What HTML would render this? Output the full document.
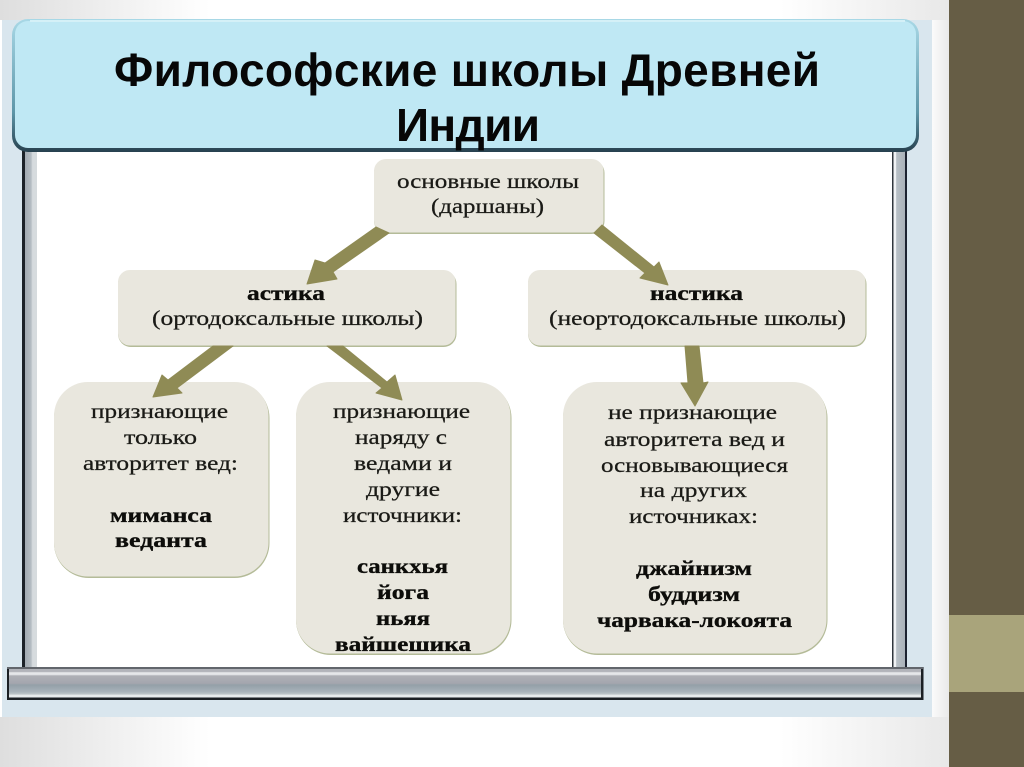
<!DOCTYPE html>
<html lang="ru">
<head>
<meta charset="utf-8">
<title>Философские школы Древней Индии</title>
<style>
html,body{margin:0;padding:0;background:#fff;width:1024px;height:767px;overflow:hidden}
svg{display:block}
.t{font-family:"Liberation Serif",serif;font-size:21px;fill:#1a1a16;stroke:#1a1a16;stroke-width:.25px}
.b{font-family:"Liberation Serif",serif;font-size:21px;font-weight:bold;fill:#0d0d0a;stroke:#0d0d0a;stroke-width:.35px}
.h{font-family:"Liberation Sans",sans-serif;font-size:46px;font-weight:bold;fill:#070707}
</style>
</head>
<body>
<svg width="1024" height="767" viewBox="0 0 1024 767" xmlns="http://www.w3.org/2000/svg">
<defs>
<linearGradient id="tl" x1="0" x2="1" y1="0" y2="0"><stop offset="0" stop-color="#dedede"/><stop offset="1" stop-color="#fff"/></linearGradient>
<linearGradient id="tr" x1="0" x2="1" y1="0" y2="0"><stop offset="0" stop-color="#fff"/><stop offset="1" stop-color="#e8e8e8"/></linearGradient>
<linearGradient id="edge" x1="0" x2="1" y1="0" y2="0"><stop offset="0" stop-color="#fbfbfb"/><stop offset="1" stop-color="#e8e8e8"/></linearGradient>
<linearGradient id="bar" x1="0" x2="0" y1="0" y2="1">
<stop offset="0" stop-color="#b0b2b8"/><stop offset=".1" stop-color="#b4b6bc"/><stop offset=".13" stop-color="#e8eaec"/><stop offset=".2" stop-color="#e0e2e5"/><stop offset=".24" stop-color="#aeb0b6"/><stop offset=".5" stop-color="#a4a6ae"/><stop offset=".56" stop-color="#94a0a8"/><stop offset=".8" stop-color="#a8b2ba"/><stop offset=".88" stop-color="#bcc4c8"/><stop offset=".92" stop-color="#e6eaec"/><stop offset="1" stop-color="#e6eaec"/>
</linearGradient>
<linearGradient id="rail" x1="0" x2="1" y1="0" y2="0"><stop offset="0" stop-color="#9aa2aa"/><stop offset=".6" stop-color="#b4bcc2"/><stop offset=".7" stop-color="#d6dbde"/><stop offset="1" stop-color="#d6dbde"/></linearGradient>
<linearGradient id="rail2" x1="0" x2="1" y1="0" y2="0"><stop offset="0" stop-color="#f0f2f4"/><stop offset=".25" stop-color="#f0f2f4"/><stop offset=".3" stop-color="#b8c0c6"/><stop offset="1" stop-color="#a6aeb6"/></linearGradient>
<linearGradient id="rim" x1="0" x2="0" y1="0" y2="1"><stop offset="0" stop-color="#a8d8e6"/><stop offset=".7" stop-color="#5e96a8"/><stop offset="1" stop-color="#27414f"/></linearGradient>
</defs>

<rect width="1024" height="767" fill="#fff"/>
<rect x="0" y="0" width="210" height="20" fill="url(#tl)"/>
<rect x="0" y="717" width="210" height="50" fill="url(#tl)"/>
<rect x="780" y="0" width="170" height="20" fill="url(#tr)"/>
<rect x="780" y="717" width="170" height="50" fill="url(#tr)"/>
<rect x="932" y="20" width="18" height="697" fill="url(#edge)"/>

<rect x="949" y="0" width="75" height="767" fill="#665d45"/>
<rect x="949" y="615" width="75" height="77" fill="#a9a47b"/>

<rect x="2" y="20" width="930" height="697" fill="#d9e6ee"/>

<rect x="37" y="140" width="856" height="530" fill="#fff"/>

<rect x="22" y="140" width="15" height="530" fill="url(#rail)"/>
<rect x="22" y="140" width="3" height="530" fill="#1c2228"/>
<rect x="892" y="140" width="15" height="530" fill="url(#rail2)"/>
<rect x="892" y="140" width="1.500" height="530" fill="#30363c"/>
<rect x="905" y="140" width="2" height="530" fill="#1c2230"/>

<rect x="7" y="667" width="916.500" height="33" fill="#1b1f24"/>
<rect x="7" y="667" width="916" height="2" fill="#62666c"/>
<rect x="9" y="669" width="912" height="28.500" fill="url(#bar)"/>

<rect x="12" y="19" width="907" height="133" rx="16" fill="url(#rim)"/>
<rect x="15" y="21" width="901" height="127" rx="13" fill="#bfe8f4"/>
<rect x="30" y="20" width="875" height="2" fill="#d4f0f7"/>

<text class="h" x="114" y="86" textLength="706" lengthAdjust="spacing">Философские школы Древней</text>
<text class="h" x="396" y="141" textLength="144" lengthAdjust="spacing">Индии</text>

<g fill="#b4bb98">
<rect x="374" y="160" width="230.500" height="74" rx="13"/>
<rect x="118" y="271" width="338.500" height="76" rx="13"/>
<rect x="528" y="271" width="338.500" height="76" rx="13"/>
<rect x="54" y="383" width="215.500" height="195" rx="35"/>
<rect x="296" y="383" width="215.500" height="272" rx="35"/>
<rect x="563" y="383" width="264.500" height="272" rx="35"/>
</g>
<g fill="#e9e7de">
<rect x="374" y="159" width="229.500" height="73.500" rx="12"/>
<rect x="118" y="270" width="337.500" height="75.500" rx="12"/>
<rect x="528" y="270" width="337.500" height="75.500" rx="12"/>
<rect x="54" y="382" width="214.500" height="194.500" rx="34"/>
<rect x="296" y="382" width="214.500" height="271.500" rx="34"/>
<rect x="563" y="382" width="263.500" height="271.500" rx="34"/>
</g>

<g fill="#8f8b55" stroke="#8f8b55" stroke-width="1" stroke-linejoin="round">
<polygon points="376,227 389,233 333,272 337,279 307,284 315,260 325,263"/>
<polygon points="602,225 594,233 645,273 640,278 668,285 659,262 654,267"/>
<polygon points="213,346 233,346 177,388 182,393 153,397 162,375 168,380"/>
<polygon points="327,346 343,346 387,382 395,375 402,400 376,393 382,388"/>
<polygon points="685,346 699,346 703,383 708,382 695,406 681,383 688,383"/>
</g>

<g lengthAdjust="spacingAndGlyphs">
<text class="t" x="397" y="188" textLength="182" lengthAdjust="spacingAndGlyphs">основные школы</text>
<text class="t" x="431" y="213" textLength="113" lengthAdjust="spacingAndGlyphs">(даршаны)</text>

<text class="b" x="247" y="300" textLength="78" lengthAdjust="spacingAndGlyphs">астика</text>
<text class="t" x="152" y="325" textLength="271" lengthAdjust="spacingAndGlyphs">(ортодоксальные школы)</text>
<text class="b" x="650" y="300" textLength="93" lengthAdjust="spacingAndGlyphs">настика</text>
<text class="t" x="549" y="325" textLength="297" lengthAdjust="spacingAndGlyphs">(неортодоксальные школы)</text>

<text class="t" x="91" y="418" textLength="137" lengthAdjust="spacingAndGlyphs">признающие</text>
<text class="t" x="124" y="444" textLength="73" lengthAdjust="spacingAndGlyphs">только</text>
<text class="t" x="83" y="470" textLength="155" lengthAdjust="spacingAndGlyphs">авторитет вед:</text>
<text class="b" x="110" y="522" textLength="102" lengthAdjust="spacingAndGlyphs">миманса</text>
<text class="b" x="115" y="547" textLength="92" lengthAdjust="spacingAndGlyphs">веданта</text>

<text class="t" x="333" y="418" textLength="137" lengthAdjust="spacingAndGlyphs">признающие</text>
<text class="t" x="355" y="444" textLength="92" lengthAdjust="spacingAndGlyphs">наряду с</text>
<text class="t" x="354" y="470" textLength="98" lengthAdjust="spacingAndGlyphs">ведами и</text>
<text class="t" x="366" y="496" textLength="74" lengthAdjust="spacingAndGlyphs">другие</text>
<text class="t" x="343" y="522" textLength="119" lengthAdjust="spacingAndGlyphs">источники:</text>
<text class="b" x="357" y="573" textLength="91" lengthAdjust="spacingAndGlyphs">санкхья</text>
<text class="b" x="377" y="599" textLength="52" lengthAdjust="spacingAndGlyphs">йога</text>
<text class="b" x="376" y="625" textLength="54" lengthAdjust="spacingAndGlyphs">ньяя</text>
<text class="b" x="335" y="651" textLength="136" lengthAdjust="spacingAndGlyphs">вайшешика</text>

<text class="t" x="608" y="419" textLength="169" lengthAdjust="spacingAndGlyphs">не признающие</text>
<text class="t" x="604" y="446" textLength="181" lengthAdjust="spacingAndGlyphs">авторитета вед и</text>
<text class="t" x="601" y="472" textLength="187" lengthAdjust="spacingAndGlyphs">основывающиеся</text>
<text class="t" x="640" y="497" textLength="107" lengthAdjust="spacingAndGlyphs">на других</text>
<text class="t" x="629" y="523" textLength="129" lengthAdjust="spacingAndGlyphs">источниках:</text>
<text class="b" x="636" y="575" textLength="116" lengthAdjust="spacingAndGlyphs">джайнизм</text>
<text class="b" x="648" y="601" textLength="92" lengthAdjust="spacingAndGlyphs">буддизм</text>
<text class="b" x="597" y="627" textLength="195" lengthAdjust="spacingAndGlyphs">чарвака-локоята</text>
</g>
</svg>
</body>
</html>
